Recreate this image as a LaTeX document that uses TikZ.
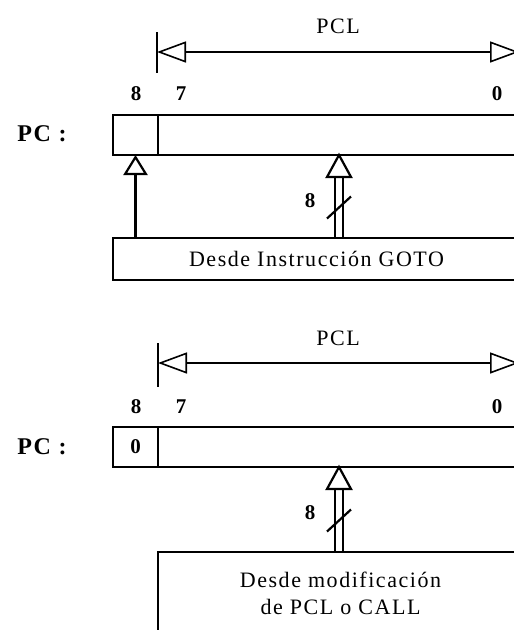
\documentclass[tikz,border=0pt]{standalone}
\usepackage{fontspec}
\setmainfont{Liberation Serif}[LetterSpace=7]
\usetikzlibrary{arrows.meta,calc,positioning}

\tikzset{
  reg/.style={draw, minimum height=40, inner sep=0, outer sep=0, anchor=north west},
  num/.style={font=\fontsize{21}{24}\selectfont\bfseries},
  flecha/.style={-{Triangle[open, length=20pt, width=24pt]}},
  cota/.style={{Triangle[open, length=29pt, width=21pt]}-{Triangle[open, length=29pt, width=21pt]}, line width=1.6pt},
}

\begin{document}
\begin{tikzpicture}[x=1pt, y=-1pt, line width=2.2pt, font=\fontsize{22}{27}\selectfont]
  \useasboundingbox (0,0) rectangle (514,630);
  \clip (0,0) rectangle (514,630);

  % ---------- PC desde GOTO ----------
  % Cota PCL
  \node (pclA) at (338,26) {PCL};
  \coordinate (cotaIzqA) at (157,52);
  \coordinate (cotaDerA) at (519,52);
  \draw ($(cotaIzqA)+(0,-20)$) -- ($(cotaIzqA)+(0,21)$);
  \draw[cota] (cotaIzqA) -- (cotaDerA);
  % Bits
  \node[num] (b8A) at (136,94) {8};
  \node[num] (b7A) at (181,94) {7};
  \node[num] (b0A) at (497,94) {0};
  % Registro
  \node[num, font=\fontsize{24}{24}\selectfont\bfseries] (pcA) at (42,134) {PC :};
  \node[reg, minimum width=45] (msbA) at (113,115) {};
  \node[reg, minimum width=370] (regA) at (msbA.north east) {};
  % Origen
  \node[reg, minimum width=407, minimum height=42] (gotoA) at (113,238) {Desde Instrucción GOTO};
  \draw[flecha] (msbA.south |- gotoA.north) -- (msbA.south);
  % Bus de 8 bits
  \coordinate (ejeA) at (339,0);
  \coordinate (busBaseA) at (gotoA.north -| ejeA);
  \coordinate (busTopA) at (regA.south -| ejeA);
  \draw ($(busBaseA)+(-4,0)$) -- ($(busTopA)+(-4,22)$);
  \draw ($(busBaseA)+(4,0)$) -- ($(busTopA)+(4,22)$);
  \draw ($(busTopA)+(-12,22)$) -- (busTopA) -- ($(busTopA)+(12,22)$) -- cycle;
  \coordinate (busMidA) at ($(busBaseA)!0.5!($(busTopA)+(0,22)$)$);
  \draw ($(busMidA)+(-12,11)$) -- ($(busMidA)+(12,-11)$);
  \node[num] (n8A) at ($(busMidA)+(-29,-7)$) {8};

  % ---------- PC desde PCL o CALL ----------
  % Cota PCL
  \node (pclB) at (338,338) {PCL};
  \coordinate (cotaIzqB) at (158,363);
  \coordinate (cotaDerB) at (519,363);
  \draw ($(cotaIzqB)+(0,-20)$) -- ($(cotaIzqB)+(0,24)$);
  \draw[cota] (cotaIzqB) -- (cotaDerB);
  % Bits
  \node[num] (b8B) at (136,407) {8};
  \node[num] (b7B) at (181,407) {7};
  \node[num] (b0B) at (497,407) {0};
  % Registro
  \node[num, font=\fontsize{24}{24}\selectfont\bfseries] (pcB) at (42,447) {PC :};
  \node[reg, minimum width=45, num] (msbB) at (113,427) {0};
  \node[reg, minimum width=370] (regB) at (msbB.north east) {};
  % Origen
  \node[reg, minimum width=365, minimum height=83, align=center] (callB) at (158,552)
    {Desde modificación\\de PCL o CALL};
  % Bus de 8 bits
  \coordinate (ejeB) at (339,0);
  \coordinate (busBaseB) at (callB.north -| ejeB);
  \coordinate (busTopB) at (regB.south -| ejeB);
  \draw ($(busBaseB)+(-4,0)$) -- ($(busTopB)+(-4,22)$);
  \draw ($(busBaseB)+(4,0)$) -- ($(busTopB)+(4,22)$);
  \draw ($(busTopB)+(-12,22)$) -- (busTopB) -- ($(busTopB)+(12,22)$) -- cycle;
  \coordinate (busMidB) at ($(busBaseB)!0.5!($(busTopB)+(0,22)$)$);
  \draw ($(busMidB)+(-12,11)$) -- ($(busMidB)+(12,-11)$);
  \node[num] (n8B) at ($(busMidB)+(-29,-8)$) {8};
\end{tikzpicture}
\end{document}
